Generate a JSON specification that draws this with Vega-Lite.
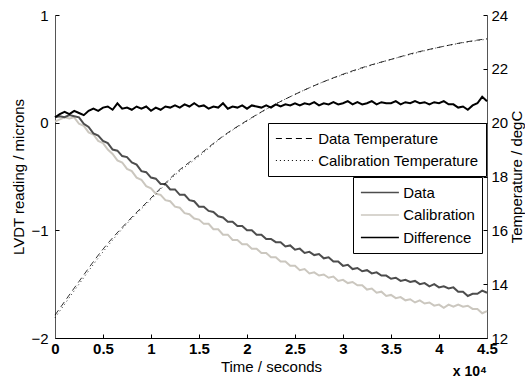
{
 "$schema": "https://vega.github.io/schema/vega-lite/v6.json",
 "width": 432, "height": 323,
 "autosize": {"type": "none"},
 "padding": {"left": 55, "top": 15, "right": 38, "bottom": 41},
 "background": "white",
 "config": {
  "view": {"stroke": null},
  "font": "Liberation Sans",
  "axis": {"grid": false, "labelFont": "Liberation Sans", "titleFont": "Liberation Sans", "labelFontSize": 15, "titleFontSize": 15, "titleFontWeight": "normal", "labelColor": "black", "titleColor": "black", "domainColor": "black", "tickColor": "black", "tickWidth": 1, "labelFlush": false, "labelOverlap": false},
  "legend": {"labelFont": "Liberation Sans", "labelFontSize": 15, "labelColor": "black", "symbolType": "M-2.5,0H2.5", "symbolSize": 231, "symbolStrokeWidth": 1, "symbolOffset": 11.4, "strokeColor": "black", "fillColor": "white", "padding": 7, "cornerRadius": 0, "labelOffset": 14.8, "rowPadding": 5, "labelLimit": 300}
 },
 "datasets": {
  "lvdt": [
   {"t":0,"Data":0.05,"Calibration":0.01,"Difference":0.05},
   {"t":500,"Data":0.06,"Calibration":0.03,"Difference":0.08},
   {"t":1000,"Data":0.05,"Calibration":0.05,"Difference":0.10},
   {"t":1500,"Data":0.07,"Calibration":0.04,"Difference":0.08},
   {"t":2000,"Data":0.06,"Calibration":0.05,"Difference":0.11},
   {"t":2500,"Data":0.05,"Calibration":-0.01,"Difference":0.09},
   {"t":3000,"Data":-0.01,"Calibration":-0.03,"Difference":0.07},
   {"t":3500,"Data":-0.04,"Calibration":-0.09,"Difference":0.11},
   {"t":4000,"Data":-0.10,"Calibration":-0.11,"Difference":0.13},
   {"t":4500,"Data":-0.12,"Calibration":-0.17,"Difference":0.11},
   {"t":5000,"Data":-0.17,"Calibration":-0.19,"Difference":0.14},
   {"t":5500,"Data":-0.19,"Calibration":-0.25,"Difference":0.15},
   {"t":6000,"Data":-0.25,"Calibration":-0.29,"Difference":0.12},
   {"t":6500,"Data":-0.26,"Calibration":-0.35,"Difference":0.18},
   {"t":7000,"Data":-0.31,"Calibration":-0.37,"Difference":0.13},
   {"t":7500,"Data":-0.32,"Calibration":-0.43,"Difference":0.14},
   {"t":8000,"Data":-0.37,"Calibration":-0.45,"Difference":0.12},
   {"t":8500,"Data":-0.39,"Calibration":-0.51,"Difference":0.15},
   {"t":9000,"Data":-0.45,"Calibration":-0.53,"Difference":0.13},
   {"t":9500,"Data":-0.46,"Calibration":-0.59,"Difference":0.15},
   {"t":10000,"Data":-0.51,"Calibration":-0.61,"Difference":0.11},
   {"t":10500,"Data":-0.52,"Calibration":-0.66,"Difference":0.14},
   {"t":11000,"Data":-0.57,"Calibration":-0.67,"Difference":0.12},
   {"t":11500,"Data":-0.57,"Calibration":-0.72,"Difference":0.15},
   {"t":12000,"Data":-0.62,"Calibration":-0.73,"Difference":0.14},
   {"t":12500,"Data":-0.62,"Calibration":-0.78,"Difference":0.16},
   {"t":13000,"Data":-0.67,"Calibration":-0.79,"Difference":0.14},
   {"t":13500,"Data":-0.67,"Calibration":-0.84,"Difference":0.17},
   {"t":14000,"Data":-0.72,"Calibration":-0.85,"Difference":0.15},
   {"t":14500,"Data":-0.73,"Calibration":-0.89,"Difference":0.18},
   {"t":15000,"Data":-0.78,"Calibration":-0.90,"Difference":0.15},
   {"t":15500,"Data":-0.78,"Calibration":-0.94,"Difference":0.16},
   {"t":16000,"Data":-0.82,"Calibration":-0.94,"Difference":0.13},
   {"t":16500,"Data":-0.83,"Calibration":-0.99,"Difference":0.15},
   {"t":17000,"Data":-0.87,"Calibration":-0.99,"Difference":0.14},
   {"t":17500,"Data":-0.88,"Calibration":-1.04,"Difference":0.18},
   {"t":18000,"Data":-0.92,"Calibration":-1.04,"Difference":0.13},
   {"t":18500,"Data":-0.92,"Calibration":-1.09,"Difference":0.15},
   {"t":19000,"Data":-0.96,"Calibration":-1.09,"Difference":0.14},
   {"t":19500,"Data":-0.96,"Calibration":-1.13,"Difference":0.16},
   {"t":20000,"Data":-1.00,"Calibration":-1.13,"Difference":0.13},
   {"t":20500,"Data":-1.00,"Calibration":-1.17,"Difference":0.16},
   {"t":21000,"Data":-1.04,"Calibration":-1.17,"Difference":0.15},
   {"t":21500,"Data":-1.04,"Calibration":-1.21,"Difference":0.14},
   {"t":22000,"Data":-1.08,"Calibration":-1.21,"Difference":0.16},
   {"t":22500,"Data":-1.08,"Calibration":-1.25,"Difference":0.14},
   {"t":23000,"Data":-1.11,"Calibration":-1.25,"Difference":0.17},
   {"t":23500,"Data":-1.11,"Calibration":-1.29,"Difference":0.15},
   {"t":24000,"Data":-1.15,"Calibration":-1.29,"Difference":0.17},
   {"t":24500,"Data":-1.14,"Calibration":-1.33,"Difference":0.16},
   {"t":25000,"Data":-1.18,"Calibration":-1.33,"Difference":0.18},
   {"t":25500,"Data":-1.17,"Calibration":-1.37,"Difference":0.16},
   {"t":26000,"Data":-1.21,"Calibration":-1.36,"Difference":0.18},
   {"t":26500,"Data":-1.20,"Calibration":-1.40,"Difference":0.17},
   {"t":27000,"Data":-1.23,"Calibration":-1.39,"Difference":0.19},
   {"t":27500,"Data":-1.22,"Calibration":-1.42,"Difference":0.16},
   {"t":28000,"Data":-1.26,"Calibration":-1.41,"Difference":0.18},
   {"t":28500,"Data":-1.25,"Calibration":-1.44,"Difference":0.17},
   {"t":29000,"Data":-1.29,"Calibration":-1.43,"Difference":0.19},
   {"t":29500,"Data":-1.29,"Calibration":-1.47,"Difference":0.17},
   {"t":30000,"Data":-1.33,"Calibration":-1.46,"Difference":0.18},
   {"t":30500,"Data":-1.32,"Calibration":-1.49,"Difference":0.20},
   {"t":31000,"Data":-1.36,"Calibration":-1.48,"Difference":0.17},
   {"t":31500,"Data":-1.35,"Calibration":-1.51,"Difference":0.19},
   {"t":32000,"Data":-1.38,"Calibration":-1.51,"Difference":0.17},
   {"t":32500,"Data":-1.37,"Calibration":-1.55,"Difference":0.18},
   {"t":33000,"Data":-1.40,"Calibration":-1.54,"Difference":0.20},
   {"t":33500,"Data":-1.39,"Calibration":-1.58,"Difference":0.17},
   {"t":34000,"Data":-1.42,"Calibration":-1.57,"Difference":0.19},
   {"t":34500,"Data":-1.42,"Calibration":-1.61,"Difference":0.18},
   {"t":35000,"Data":-1.45,"Calibration":-1.60,"Difference":0.18},
   {"t":35500,"Data":-1.44,"Calibration":-1.63,"Difference":0.20},
   {"t":36000,"Data":-1.47,"Calibration":-1.62,"Difference":0.17},
   {"t":36500,"Data":-1.46,"Calibration":-1.65,"Difference":0.19},
   {"t":37000,"Data":-1.48,"Calibration":-1.64,"Difference":0.18},
   {"t":37500,"Data":-1.47,"Calibration":-1.67,"Difference":0.20},
   {"t":38000,"Data":-1.50,"Calibration":-1.65,"Difference":0.18},
   {"t":38500,"Data":-1.49,"Calibration":-1.68,"Difference":0.19},
   {"t":39000,"Data":-1.52,"Calibration":-1.67,"Difference":0.17},
   {"t":39500,"Data":-1.50,"Calibration":-1.70,"Difference":0.19},
   {"t":40000,"Data":-1.53,"Calibration":-1.69,"Difference":0.18},
   {"t":40500,"Data":-1.52,"Calibration":-1.72,"Difference":0.20},
   {"t":41000,"Data":-1.54,"Calibration":-1.69,"Difference":0.17},
   {"t":41500,"Data":-1.53,"Calibration":-1.71,"Difference":0.17},
   {"t":42000,"Data":-1.57,"Calibration":-1.69,"Difference":0.14},
   {"t":42500,"Data":-1.57,"Calibration":-1.71,"Difference":0.15},
   {"t":43000,"Data":-1.61,"Calibration":-1.70,"Difference":0.12},
   {"t":43500,"Data":-1.59,"Calibration":-1.73,"Difference":0.16},
   {"t":44000,"Data":-1.59,"Calibration":-1.73,"Difference":0.18},
   {"t":44500,"Data":-1.56,"Calibration":-1.77,"Difference":0.24},
   {"t":45000,"Data":-1.58,"Calibration":-1.75,"Difference":0.20}
  ],
  "temp": [
   {"t":0,"Data Temperature":12.85,"Calibration Temperature":12.75},
   {"t":2500,"Data Temperature":14.1,"Calibration Temperature":14.0},
   {"t":5000,"Data Temperature":15.3,"Calibration Temperature":15.2},
   {"t":7500,"Data Temperature":16.3,"Calibration Temperature":16.25},
   {"t":10000,"Data Temperature":17.2,"Calibration Temperature":17.15},
   {"t":12500,"Data Temperature":18.1,"Calibration Temperature":18.05},
   {"t":15000,"Data Temperature":18.8,"Calibration Temperature":18.75},
   {"t":17500,"Data Temperature":19.5,"Calibration Temperature":19.48},
   {"t":20000,"Data Temperature":20.08,"Calibration Temperature":20.06},
   {"t":22500,"Data Temperature":20.6,"Calibration Temperature":20.6},
   {"t":25000,"Data Temperature":21.05,"Calibration Temperature":21.05},
   {"t":27500,"Data Temperature":21.45,"Calibration Temperature":21.45},
   {"t":30000,"Data Temperature":21.8,"Calibration Temperature":21.78},
   {"t":32500,"Data Temperature":22.1,"Calibration Temperature":22.08},
   {"t":35000,"Data Temperature":22.35,"Calibration Temperature":22.35},
   {"t":37500,"Data Temperature":22.6,"Calibration Temperature":22.58},
   {"t":40000,"Data Temperature":22.8,"Calibration Temperature":22.8},
   {"t":42500,"Data Temperature":22.98,"Calibration Temperature":22.97},
   {"t":45000,"Data Temperature":23.12,"Calibration Temperature":23.1}
  ]
 },
 "layer": [
  {
   "layer": [
    {
     "data": {"name": "lvdt"},
     "transform": [{"fold": ["Calibration", "Data"], "as": ["series", "v"]}],
     "mark": {"type": "line", "strokeWidth": 2},
     "encoding": {
      "x": {"field": "t", "type": "quantitative", "scale": {"domain": [0, 45000], "nice": false, "zero": false},
            "axis": {"values": [0,5000,10000,15000,20000,25000,30000,35000,40000,45000], "labelExpr": "'' + datum.value / 10000", "labelFontWeight": "bold", "title": "Time / seconds", "ticks": false, "labelPadding": 3, "titlePadding": 3}},
      "y": {"field": "v", "type": "quantitative", "scale": {"domain": [-2, 1], "nice": false, "zero": false},
            "axis": {"values": [-2, -1, 0, 1], "format": "d", "title": "LVDT reading / microns", "domainColor": "#555555", "ticks": false, "labelPadding": 7, "titlePadding": 4}},
      "color": {"field": "series", "type": "nominal",
                "scale": {"domain": ["Data", "Calibration", "Difference"], "range": ["#4d4d4d", "#cbc7bf", "#000000"]},
                "legend": {"orient": "none", "legendX": 298, "legendY": 162, "title": null, "symbolStrokeWidth": 1.5, "rowPadding": 5.5}}
     }
    },
    {
     "data": {"name": "lvdt"},
     "transform": [{"fold": ["Difference"], "as": ["series", "v"]}],
     "mark": {"type": "line", "strokeWidth": 2},
     "encoding": {
      "x": {"field": "t", "type": "quantitative",
            "axis": {"orient": "top", "offset": -323, "values": [0,5000,10000,15000,20000,25000,30000,35000,40000,45000], "labels": false, "domain": false, "title": null, "ticks": true, "tickSize": 4}},
      "y": {"field": "v", "type": "quantitative",
            "axis": {"orient": "right", "offset": -432, "values": [-2, -1, 0, 1], "labels": false, "domain": false, "title": null, "ticks": true, "tickSize": 4}},
      "color": {"field": "series", "type": "nominal",
                "scale": {"domain": ["Data", "Calibration", "Difference"], "range": ["#4d4d4d", "#cbc7bf", "#000000"]},
                "legend": {"orient": "none", "legendX": 298, "legendY": 162, "title": null, "symbolStrokeWidth": 1.5, "rowPadding": 5.5}}
     }
    }
   ],
   "resolve": {"axis": {"x": "independent", "y": "independent"}}
  },
  {
   "layer": [
    {
     "data": {"name": "temp"},
     "transform": [{"fold": ["Data Temperature", "Calibration Temperature"], "as": ["series2", "T"]}],
     "mark": {"type": "line", "color": "black", "strokeWidth": 0.8, "interpolate": "monotone"},
     "encoding": {
      "x": {"field": "t", "type": "quantitative", "axis": null},
      "y": {"field": "T", "type": "quantitative", "scale": {"domain": [12, 24], "nice": false, "zero": false},
            "axis": {"orient": "right", "values": [12, 14, 16, 18, 20, 22, 24], "format": "d", "title": "Temperature / degC", "titleAngle": 270, "domainColor": "#555555", "ticks": false, "labelPadding": 4, "titlePadding": 17}},
      "strokeDash": {"field": "series2", "type": "nominal",
                     "scale": {"domain": ["Data Temperature", "Calibration Temperature"], "range": [[6, 4], [1, 3]]},
                     "legend": {"orient": "none", "legendX": 213, "legendY": 108, "title": null}}
     }
    },
    {
     "data": {"values": [{"t": 45000, "T": 12, "label": "x 10⁴"}]},
     "mark": {"type": "text", "align": "right", "baseline": "alphabetic", "dy": 38, "fontWeight": "bold", "fontSize": 14, "font": "Liberation Sans", "color": "black"},
     "encoding": {
      "x": {"field": "t", "type": "quantitative", "axis": null},
      "y": {"field": "T", "type": "quantitative",
            "axis": {"orient": "left", "offset": -432, "values": [12, 14, 16, 18, 20, 22, 24], "labels": false, "domain": false, "title": null, "ticks": true, "tickSize": 4}},
      "text": {"field": "label"}
     }
    }
   ],
   "resolve": {"axis": {"y": "independent"}}
  }
 ],
 "resolve": {"scale": {"y": "independent"}, "axis": {"x": "independent", "y": "independent"}}
}
